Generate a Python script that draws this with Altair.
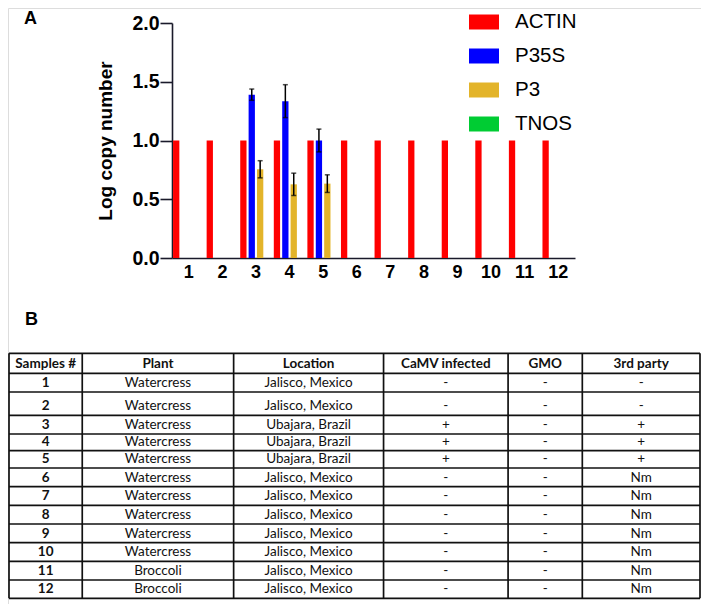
import altair as alt
import pandas as pd
from itertools import accumulate

# ---------------- Panel A data ----------------
samples = ["1", "2", "3", "4", "5", "6", "7", "8", "9", "10", "11", "12"]
series = ["ACTIN", "P35S", "P3", "TNOS"]
colors = ["#ff0000", "#0000ff", "#e3b42a", "#00cc33"]

actin = [1.0, 1.0, 1.0, 1.0, 1.0, 1.0, 1.0, 1.0, 1.0, 1.0, 1.0, 1.0]
actin_err = [None, None, None, None, None, None, None, None, None, None, None, None]
p35s = [None, None, 1.39, 1.335, 1.0, None, None, None, None, None, None, None]
p35s_err = [None, None, 0.048, 0.14, 0.097, None, None, None, None, None, None, None]
p3 = [None, None, 0.755, 0.627, 0.633, None, None, None, None, None, None, None]
p3_err = [None, None, 0.073, 0.095, 0.075, None, None, None, None, None, None, None]
tnos = [None, None, None, None, None, None, None, None, None, None, None, None]
tnos_err = [None, None, None, None, None, None, None, None, None, None, None, None]

# ---------------- Panel B data ----------------
table_header = ["Samples #", "Plant", "Location", "CaMV infected", "GMO", "3rd party"]
sample_ids = ["1", "2", "3", "4", "5", "6", "7", "8", "9", "10", "11", "12"]
plants = ["Watercress", "Watercress", "Watercress", "Watercress", "Watercress", "Watercress",
          "Watercress", "Watercress", "Watercress", "Watercress", "Broccoli", "Broccoli"]
locations = ["Jalisco, Mexico", "Jalisco, Mexico", "Ubajara, Brazil", "Ubajara, Brazil",
             "Ubajara, Brazil", "Jalisco, Mexico", "Jalisco, Mexico", "Jalisco, Mexico",
             "Jalisco, Mexico", "Jalisco, Mexico", "Jalisco, Mexico", "Jalisco, Mexico"]
camv = ["-", "-", "+", "+", "+", "-", "-", "-", "-", "-", "-", "-"]
gmo = ["-", "-", "-", "-", "-", "-", "-", "-", "-", "-", "-", "-"]
third_party = ["-", "-", "+", "+", "+", "Nm", "Nm", "Nm", "Nm", "Nm", "Nm", "Nm"]

# ---------------- layout constants ----------------
W, H = 693, 596
col_widths = [75, 155, 153.5, 127.5, 76, 120.5]
row_heights = [20, 18.7, 23.3, 18.7, 16.7, 17.3, 18.7, 18.6, 18.7, 18.7, 18.6, 18.7, 18.3]

# ---------------- Panel A ----------------
rows = []
for name, vals, errs in [("ACTIN", actin, actin_err), ("P35S", p35s, p35s_err),
                         ("P3", p3, p3_err), ("TNOS", tnos, tnos_err)]:
    for s, v, e in zip(samples, vals, errs):
        if v is None:
            continue
        rows.append({"sample": s, "series": name, "value": v,
                     "lo": v - e if e is not None else None,
                     "hi": v + e if e is not None else None})
bar_df = pd.DataFrame(rows)
err_df = bar_df.dropna(subset=["lo"])

xenc = alt.X("sample:N", sort=samples,
             scale=alt.Scale(domain=samples, range=[164, 567], paddingInner=0, paddingOuter=0),
             axis=alt.Axis(orient="bottom", offset=-(H - 250), ticks=False, labelPadding=5,
                           labelAngle=0, labelFont="Liberation Sans", labelFontSize=18,
                           labelFontWeight="bold", labelColor="#000", domainColor="#1a1a2a",
                           domainWidth=1.6, title=None, grid=False))
xoff = alt.XOffset("series:N", sort=series,
                   scale=alt.Scale(domain=series, paddingInner=0.25, paddingOuter=0.125))
yscale = alt.Scale(domain=[0, 2], range=[250, 15], nice=False, zero=False)

bars = alt.Chart(bar_df).mark_bar().encode(
    x=xenc,
    xOffset=xoff,
    y=alt.Y("value:Q", scale=yscale,
            axis=alt.Axis(orient="left", offset=-164, values=[0, 0.5, 1.0, 1.5, 2.0],
                          format=".1f", tickSize=12, tickWidth=1.6, tickColor="#1a1a2a",
                          labelPadding=1, labelFont="Liberation Sans", labelFontSize=19.5,
                          labelFontWeight="bold", labelColor="#000", domainColor="#1a1a2a",
                          domainWidth=1.6, grid=False, title="Log copy number",
                          titleFont="Liberation Sans", titleFontSize=19, titleFontWeight="bold",
                          titleColor="#000", titlePadding=16)),
    color=alt.Color("series:N", sort=series,
                    scale=alt.Scale(domain=series, range=colors),
                    legend=alt.Legend(orient="none", legendX=461, legendY=-1, title=None,
                                      symbolType="M-1,-0.5H1V0.5H-1Z", symbolSize=900,
                                      symbolStrokeWidth=0, symbolOpacity=1,
                                      labelFont="Liberation Sans", labelFontSize=20.5,
                                      labelColor="#000", labelOffset=16, rowPadding=8,
                                      padding=0)),
)

err_rule = alt.Chart(err_df).mark_rule(color="#000", strokeWidth=1.5).encode(
    x=alt.X("sample:N", sort=samples), xOffset=alt.XOffset("series:N", sort=series),
    y=alt.Y("lo:Q"), y2="hi:Q")
err_top = alt.Chart(err_df).mark_tick(color="#000", thickness=1.5, size=5).encode(
    x=alt.X("sample:N", sort=samples), xOffset=alt.XOffset("series:N", sort=series),
    y=alt.Y("hi:Q"))
err_bot = alt.Chart(err_df).mark_tick(color="#000", thickness=1.5, size=5).encode(
    x=alt.X("sample:N", sort=samples), xOffset=alt.XOffset("series:N", sort=series),
    y=alt.Y("lo:Q"))

panel_a = alt.layer(bars, err_rule, err_top, err_bot)

# ---------------- Panel B (table) ----------------
col_edges = [0] + list(accumulate(col_widths))
row_edges = [0] + list(accumulate(row_heights))
total_w, total_h = col_edges[-1], row_edges[-1]

columns = [sample_ids, plants, locations, camv, gmo, third_party]
cells = []
for c, head in enumerate(table_header):
    xc = (col_edges[c] + col_edges[c + 1]) / 2
    cells.append({"tx": xc, "ty": row_edges[1] - 9.5, "label": head, "bold": "y"})
    for r, val in enumerate(columns[c]):
        cells.append({"tx": xc, "ty": row_edges[r + 2] - 9, "label": val,
                      "bold": "y" if c == 0 else "n"})
cell_df = pd.DataFrame(cells)

vlines = pd.DataFrame({"lx": col_edges, "ly": [0] * len(col_edges),
                       "ly2": [total_h] * len(col_edges)})
hlines = pd.DataFrame({"ly": row_edges, "lx": [0] * len(row_edges),
                       "lx2": [total_w] * len(row_edges)})

tx_scale = alt.Scale(domain=[0, total_w], range=[1, 692], nice=False, zero=False)
ty_scale = alt.Scale(domain=[0, total_h], range=[345.3, 345.3 + total_h], nice=False, zero=False)

v_rules = alt.Chart(vlines).mark_rule(color="#111", strokeWidth=1.7).encode(
    x=alt.X("lx:Q", scale=tx_scale, axis=None),
    y=alt.Y("ly:Q", scale=ty_scale, axis=None), y2="ly2:Q")
h_rules = alt.Chart(hlines).mark_rule(color="#111", strokeWidth=1.7).encode(
    y=alt.Y("ly:Q", scale=ty_scale, axis=None),
    x=alt.X("lx:Q", scale=tx_scale, axis=None), x2="lx2:Q")
txt_bold = alt.Chart(cell_df).transform_filter(alt.datum.bold == "y").mark_text(
    font="Lato", fontSize=13.5, fontWeight="bold", color="#111", baseline="middle").encode(
    x=alt.X("tx:Q", scale=tx_scale, axis=None),
    y=alt.Y("ty:Q", scale=ty_scale, axis=None), text="label:N")
txt_norm = alt.Chart(cell_df).transform_filter(alt.datum.bold == "n").mark_text(
    font="Lato", fontSize=13.5, color="#111", baseline="middle").encode(
    x=alt.X("tx:Q", scale=tx_scale, axis=None),
    y=alt.Y("ty:Q", scale=ty_scale, axis=None), text="label:N")

panel_b = alt.layer(v_rules, h_rules, txt_bold, txt_norm)

# ---------------- panel letters ----------------
lab_a = alt.Chart(pd.DataFrame({"t": ["A"]})).mark_text(
    font="Liberation Sans", fontSize=18, fontWeight="bold", align="left",
    baseline="alphabetic", color="#000").encode(
    x=alt.value(16), y=alt.value(16), text="t:N")
lab_b = alt.Chart(pd.DataFrame({"t": ["B"]})).mark_text(
    font="Liberation Sans", fontSize=18, fontWeight="bold", align="left",
    baseline="alphabetic", color="#000").encode(
    x=alt.value(17), y=alt.value(317), text="t:N")

chart = alt.layer(panel_a, panel_b, lab_a, lab_b).resolve_scale(
    x="independent", y="independent"
).properties(
    width=W, height=H, padding=0,
    autosize=alt.AutoSizeParams(type="none"),
).configure_view(strokeWidth=0).configure(background="white")

chart.save("out.html", embed_options={"renderer": "svg", "actions": False})
